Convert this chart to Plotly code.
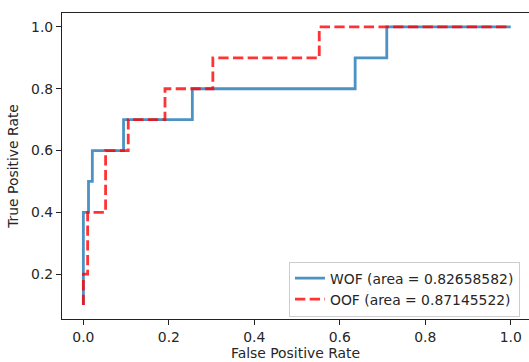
import plotly.graph_objects as go

# WOF ROC curve points (false positive rate, true positive rate)
wof_fpr = [0.0, 0.0, 0.012, 0.012, 0.021, 0.021, 0.094, 0.094, 0.255, 0.255, 0.636, 0.636, 0.71, 0.71, 1.0]
wof_tpr = [0.1, 0.4, 0.4, 0.5, 0.5, 0.6, 0.6, 0.7, 0.7, 0.8, 0.8, 0.9, 0.9, 1.0, 1.0]
wof_auc = 0.82658582

# OOF ROC curve points
oof_fpr = [0.0, 0.0, 0.01, 0.01, 0.052, 0.052, 0.105, 0.105, 0.191, 0.191, 0.303, 0.303, 0.552, 0.552, 1.0]
oof_tpr = [0.1, 0.2, 0.2, 0.4, 0.4, 0.6, 0.6, 0.7, 0.7, 0.8, 0.8, 0.9, 0.9, 1.0, 1.0]
oof_auc = 0.87145522

x_ticks = [0.0, 0.2, 0.4, 0.6, 0.8, 1.0]
y_ticks = [0.2, 0.4, 0.6, 0.8, 1.0]

FONT = "DejaVu Sans"
FS = 13.9

fig = go.Figure()
fig.add_trace(go.Scatter(
    x=wof_fpr, y=wof_tpr, mode="lines",
    name=f"WOF (area = {wof_auc:.8f})",
    line=dict(color="rgba(31,119,180,0.8)", width=2.8),
))
fig.add_trace(go.Scatter(
    x=oof_fpr, y=oof_tpr, mode="lines",
    name=f"OOF (area = {oof_auc:.8f})",
    line=dict(color="rgba(255,0,0,0.8)", width=2.8, dash="10.3px,4.4px"),
))

axis_common = dict(
    showgrid=False, zeroline=False, showline=True, linecolor="#222", linewidth=1.1,
    ticks="outside", ticklen=5, tickwidth=1.1, tickcolor="#222",
    tickfont=dict(family=FONT, size=FS, color="#262626"),
)

fig.update_layout(
    width=529, height=362,
    margin=dict(l=62, r=0, t=13, b=43),
    paper_bgcolor="white", plot_bgcolor="white",
    font=dict(family=FONT, size=FS, color="#262626"),
    xaxis=dict(
        range=[-0.05, 1.0428], tickvals=x_ticks, ticktext=[f"{v:.1f}" for v in x_ticks],
        mirror=True,
        title=dict(text="False Positive Rate", font=dict(family=FONT, size=FS, color="#262626"), standoff=2),
        **axis_common,
    ),
    yaxis=dict(
        range=[0.055, 1.045], tickvals=y_ticks, ticktext=[f"{v:.1f}" for v in y_ticks],
        mirror=False,
        title=dict(text="True Positive Rate", font=dict(family=FONT, size=FS, color="#262626"), standoff=9),
        **axis_common,
    ),
    showlegend=True,
    legend=dict(
        x=0.9807, y=0.008, xanchor="right", yanchor="bottom",
        bgcolor="rgba(255,255,255,0.8)", bordercolor="#cccccc", borderwidth=1,
        font=dict(family=FONT, size=FS, color="#262626"),
        itemwidth=30, tracegroupgap=0,
    ),
)

fig.write_html("out.html")
